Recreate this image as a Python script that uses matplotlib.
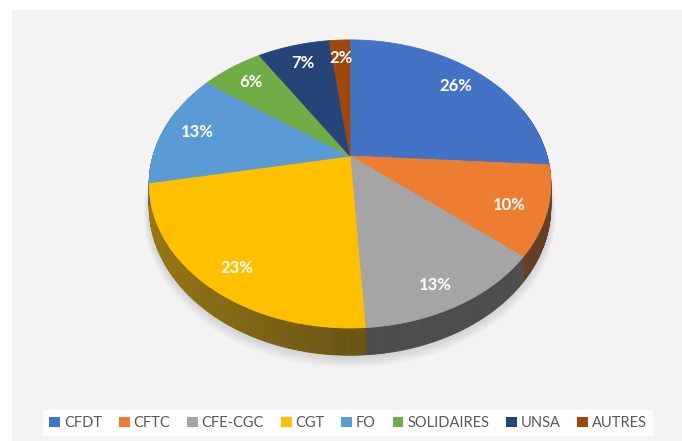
import numpy as np
import matplotlib
matplotlib.use('Agg')
import matplotlib.pyplot as plt
import matplotlib.transforms as mtransforms
from matplotlib.path import Path
from matplotlib.patches import Rectangle, Patch
from matplotlib.collections import PolyCollection
import matplotlib.colors as mcolors

# ---- data ----
categories = ['CFDT', 'CFTC', 'CFE-CGC', 'CGT', 'FO', 'SOLIDAIRES', 'UNSA', 'AUTRES']
shares = [26, 10, 13, 23, 13, 6, 7, 2]
colors = ['#4472C4', '#ED7D31', '#A5A5A5', '#FFC000', '#5B9BD5', '#70AD47', '#264478', '#9E480E']

# ---- layout / projection parameters (pixels) ----
W, H = 682, 441
CX, CY = 350, 156      # projected centre of the pie
RX, RY = 197, 138.6    # horizontal / vertical radii
K = 0.194              # perspective strength
DEPTH = 22             # thickness of the pie


class Perspective(mtransforms.Transform):
    """Maps unit-disc pie coordinates to pixel coordinates with perspective."""
    input_dims = output_dims = 2
    is_separable = False
    has_inverse = False

    def __init__(self, z=0.0, scale=1.0):
        super().__init__()
        self.z = z
        self.scale = scale

    def transform_non_affine(self, values):
        values = np.asarray(values, float).reshape(-1, 2)
        u = values[:, 0] * self.scale
        v = values[:, 1] * self.scale
        w = 1 + K * v
        x = CX + RX * u / w
        y = CY - (RY * v - self.z) / w
        return np.column_stack([x, y])

    def transform_path_non_affine(self, path):
        pts = []
        for bez, code in path.iter_bezier():
            t = np.linspace(0, 1, 40)
            pts.append(bez(t))
        pts = np.vstack(pts)
        out = self.transform_non_affine(pts)
        return Path(np.vstack([out, out[:1]]), closed=True)


fig = plt.figure(figsize=(W / 100, H / 100), dpi=100)
fig.patch.set_facecolor('white')
ax = fig.add_axes([0, 0, 1, 1])

# top face drawn by pie, then re-projected
wedges, texts, autotexts = ax.pie(
    shares, colors=colors, startangle=90, counterclock=False,
    autopct=lambda p: f'{p:.0f}%', pctdistance=0.82,
    textprops=dict(color='white', fontweight='bold', fontsize=12, family=['Lato', 'DejaVu Sans']),
    wedgeprops=dict(linewidth=0.6))

ax.set_aspect('auto')
ax.set_xlim(0, W)
ax.set_ylim(H, 0)
ax.axis('off')

# background panel
ax.add_patch(Rectangle((12, 10), W - 12, H - 10, facecolor='#F3F3F3', edgecolor='none', zorder=0))

top = Perspective(0.0)
for w in wedges:
    w.set_transform(top + ax.transData)
    w.set_edgecolor(w.get_facecolor())
    w.set_zorder(5)
for t in autotexts:
    _, ty = t.get_position()
    t.set_transform(Perspective(13 * max(0.0, -ty)) + ax.transData)
    t.set_zorder(6)

# soft shadow under the pie
theta_all = np.linspace(0, 2 * np.pi, 400)
circle = np.column_stack([np.sin(theta_all), np.cos(theta_all)])
for s in range(7):
    sh = Perspective(DEPTH + 1 + s * 0.8, scale=1.0 + 0.004 * s)
    ax.fill(*sh.transform(circle).T, color='#808080', alpha=0.045, lw=0, zorder=1)

# side walls (outer rim), shaded
bottom = Perspective(DEPTH)
cum = np.concatenate([[0], np.cumsum(shares)]) / np.sum(shares) * 2 * np.pi
polys, fcs = [], []
for i, c in enumerate(colors):
    th = np.linspace(cum[i], cum[i + 1], max(3, int((cum[i + 1] - cum[i]) * 80)))
    base = np.array(mcolors.to_rgb(c))
    for a0, a1 in zip(th[:-1], th[1:]):
        if np.cos(0.5 * (a0 + a1)) > 0.35:
            continue
        p = np.array([[np.sin(a0), np.cos(a0)], [np.sin(a1), np.cos(a1)]])
        tp = top.transform(p)
        bp = bottom.transform(p)
        polys.append([tp[0], tp[1], bp[1], bp[0]])
        u = np.sin(0.5 * (a0 + a1))
        f = 0.40 + 0.22 * max(0.0, -u)
        fcs.append(np.clip(base * f * 0.85 + 0.08, 0, 1))
pc = PolyCollection(polys, facecolors=fcs, edgecolors=fcs, linewidths=0.6, zorder=3)
ax.add_collection(pc)

# legend
handles = [Patch(facecolor=c, edgecolor='none') for c in colors]
leg = fig.legend(handles, categories, ncol=len(categories), loc='center',
                 bbox_to_anchor=(348 / W, 1 - 423 / H), bbox_transform=fig.transFigure,
                 frameon=True, facecolor='white', edgecolor='none', framealpha=0.85,
                 prop=dict(family=['Lato', 'DejaVu Sans'], size=10.5),
                 labelcolor='#595959', handlelength=0.75, handleheight=0.75,
                 handletextpad=0.25, columnspacing=1.15, borderpad=0.4, fancybox=False)

fig.savefig('out.png', dpi=100, facecolor='white')
